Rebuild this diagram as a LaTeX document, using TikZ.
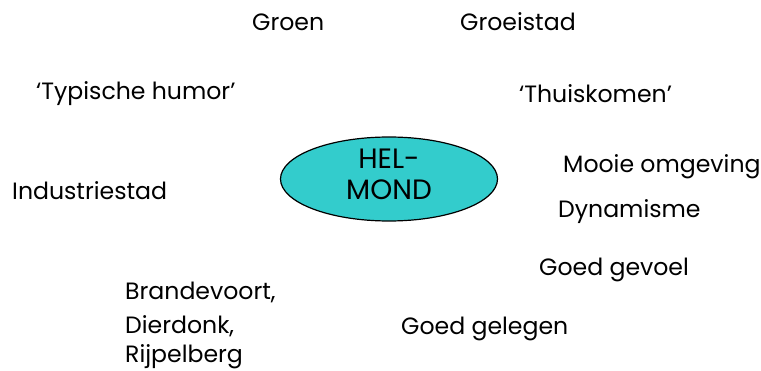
\documentclass[tikz,border=0pt]{standalone}
\usepackage{fontspec}
\setmainfont{Poppins}
\usetikzlibrary{shapes.geometric}
\definecolor{helcyan}{HTML}{33CCCC}
\tikzset{
  word/.style={anchor=west, inner sep=0pt, font=\fontsize{23.6}{28}\selectfont, text=black},
  hub/.style={ellipse, draw=black, line width=1.2pt, fill=helcyan, minimum width=217pt, minimum height=84pt, inner sep=0pt, align=center, font=\fontsize{28}{31}\selectfont}
}
\begin{document}
\begin{tikzpicture}[x=1pt,y=-1pt]
\useasboundingbox (0,0) rectangle (761,371);
\node[hub] (hub) at (389,179) {};
\node[inner sep=0pt, align=center, font=\fontsize{28}{31}\selectfont] (hubtext) at (389,174) {HEL-\\MOND};
\node[word] (groen) at (252,22) {Groen};
\node[word] (groeistad) at (460,22) {Groeistad};
\node[word] (humor) at (36,94) {‘Typische humor’};
\node[word] (thuis) at (519,94) {‘Thuiskomen’};
\node[word] (mooie) at (563,167) {Mooie omgeving};
\node[word] (industrie) at (12,191) {Industriestad};
\node[word] (dyn) at (558,212) {Dynamisme};
\node[word] (gevoel) at (539,270) {Goed gevoel};
\node[word] (brande) at (125,292) {Brandevoort,};
\node[word] (dierdonk) at (125,326) {Dierdonk,};
\node[word] (rijpel) at (125,357) {Rijpelberg};
\node[word] (gelegen) at (401,329) {Goed gelegen};
\end{tikzpicture}
\end{document}
